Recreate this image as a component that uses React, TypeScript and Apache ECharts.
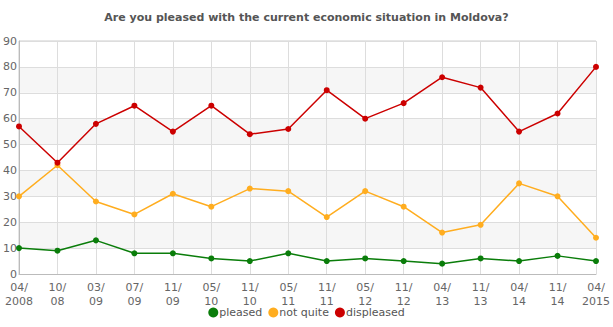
import React, { useEffect, useRef } from "react";
import * as echarts from "echarts";

const categories = ["04/\n2008", "10/\n08", "03/\n09", "07/\n09", "11/\n09", "05/\n10", "11/\n10", "05/\n11", "11/\n11", "05/\n12", "11/\n12", "04/\n13", "11/\n13", "04/\n14", "11/\n14", "04/\n2015"];
const pleased = [10, 9, 13, 8, 8, 6, 5, 8, 5, 6, 5, 4, 6, 5, 7, 5];
const notQuite = [30, 42, 28, 23, 31, 26, 33, 32, 22, 32, 26, 16, 19, 35, 30, 14];
const displeased = [57, 43, 58, 65, 55, 65, 54, 56, 71, 60, 66, 76, 72, 55, 62, 80];
const yTicks = { min: 0, max: 90, interval: 10 };

export default function App() {
  const ref = useRef<HTMLDivElement>(null);
  useEffect(() => {
    const chart = echarts.init(ref.current!, null, { renderer: "svg" });
    const font = "Tahoma, 'DejaVu Sans', Verdana, sans-serif";
    const mk = (name: string, data: number[], color: string) => ({
      name,
      type: "line",
      data,
      symbol: "circle",
      symbolSize: 6,
      itemStyle: { color },
      lineStyle: { color, width: 1.5 },
    });
    chart.setOption({
      animation: false,
      title: {
        text: "Are you pleased with the current economic situation in Moldova?",
        left: "center",
        top: 7,
        textStyle: { fontSize: 11, fontWeight: "bold", color: "#555", fontFamily: font },
      },
      grid: { left: 16, right: 13, top: 41, bottom: 53, show: true, borderColor: "#ccc", borderWidth: 1, backgroundColor: "transparent" },
      legend: {
        bottom: 4,
        left: "center",
        icon: "circle",
        itemWidth: 10,
        itemHeight: 10,
        itemGap: 6,
        textStyle: { fontSize: 11, color: "#555", fontFamily: font, padding: [0, 0, 0, -4] },
        data: ["pleased", "not quite", "displeased"],
      },
      xAxis: {
        type: "category",
        data: categories,
        boundaryGap: false,
        axisLine: { lineStyle: { color: "#bbb" } },
        axisTick: { show: false },
        axisLabel: { color: "#666", fontSize: 11, fontFamily: font, margin: 6, lineHeight: 14, interval: 0 },
        splitLine: { show: true, lineStyle: { color: "#ddd" } },
      },
      yAxis: {
        type: "value",
        min: yTicks.min,
        max: yTicks.max,
        interval: yTicks.interval,
        axisLine: { show: true, lineStyle: { color: "#bbb" } },
        axisTick: { show: false },
        axisLabel: { color: "#666", fontSize: 11, fontFamily: font, margin: 2 },
        splitLine: { show: true, lineStyle: { color: "#ddd" } },
        splitArea: { show: true, areaStyle: { color: ["#ffffff", "#f6f6f6"] } },
      },
      series: [
        mk("pleased", pleased, "#0a7d0a"),
        mk("not quite", notQuite, "#ffad1f"),
        mk("displeased", displeased, "#cc0000"),
      ],
    });
    return () => chart.dispose();
  }, []);
  return <div ref={ref} style={{ width: 613, height: 327, position: "absolute", left: 0, top: 0 }} />;
}
